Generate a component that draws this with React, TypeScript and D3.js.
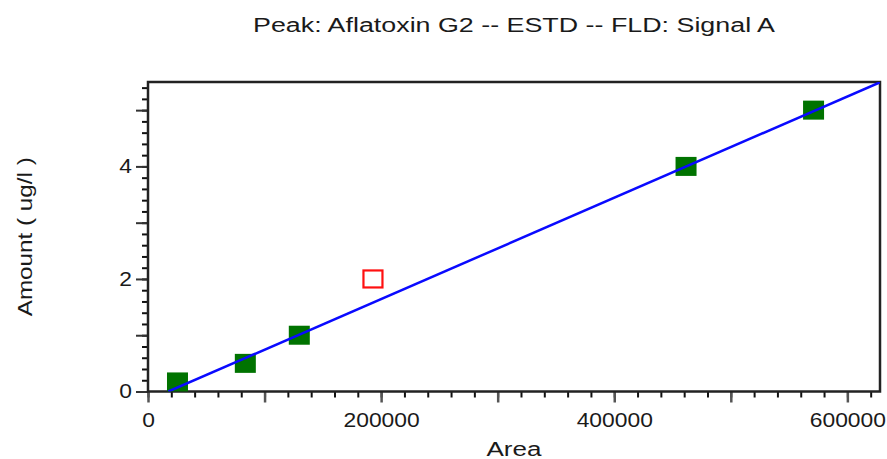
import React, { useEffect, useRef } from "react";
import { select, scaleLinear, axisBottom, axisLeft, range, line } from "d3";

// calibration points (area vs amount)
const areas = [25300, 83500, 129800, 461600, 571000];
const amounts = [0.17, 0.5, 1.0, 4.0, 5.0];
// excluded point (open red square)
const excludedAreas = [193000];
const excludedAmounts = [2.0];
// fitted line: amount = slope * area + intercept
const fitSlope = 9.0e-6;
const fitIntercept = -0.157;

const xTickLabels = [0, 200000, 400000, 600000];
const yTickLabels = [0, 2, 4];
const title = "Peak: Aflatoxin G2 -- ESTD -- FLD: Signal A";

const width = 887;
const height = 459;
const plotLeft = 148;
const plotRight = 880;
const plotTop = 82;
const plotBottom = 391.5;
const xMax = 628000;
const yMax = 5.5;
const font = "'Liberation Sans', Arial, sans-serif";

const App = () => {
  const svgRef = useRef<SVGSVGElement>(null);

  useEffect(() => {
    const svg = select(svgRef.current);
    svg.selectAll("*").remove();

    const xScale = scaleLinear().domain([0, xMax]).range([plotLeft, plotRight]);
    const yScale = scaleLinear().domain([0, yMax]).range([plotBottom, plotTop]);

    // title
    svg
      .append("text")
      .attr("x", (plotLeft + plotRight) / 2)
      .attr("y", 32)
      .attr("text-anchor", "middle")
      .attr("textLength", 522)
      .attr("lengthAdjust", "spacingAndGlyphs")
      .style("font-family", font)
      .style("font-size", "20px")
      .style("fill", "#1a1a1a")
      .text(title);

    // x axis ticks: minor every 20000, major every 100000
    const xMinor = axisBottom(xScale)
      .tickValues(range(0, xMax + 1, 20000))
      .tickSize(6)
      .tickFormat(() => "");
    svg
      .append("g")
      .attr("transform", `translate(0,${plotBottom})`)
      .call(xMinor)
      .call((g) => g.select(".domain").remove())
      .call((g) => g.selectAll("line").attr("stroke", "#111").attr("stroke-width", 2));

    const xMajor = axisBottom(xScale)
      .tickValues(range(0, xMax + 1, 100000))
      .tickSize(11)
      .tickFormat(() => "");
    svg
      .append("g")
      .attr("transform", `translate(0,${plotBottom})`)
      .call(xMajor)
      .call((g) => g.select(".domain").remove())
      .call((g) => g.selectAll("line").attr("stroke", "#555").attr("stroke-width", 2.5));

    const xLabels = axisBottom(xScale)
      .tickValues(xTickLabels)
      .tickSize(0)
      .tickPadding(0)
      .tickFormat((d) => String(d));
    svg
      .append("g")
      .attr("transform", `translate(0,${plotBottom})`)
      .call(xLabels)
      .call((g) => g.select(".domain").remove())
      .call((g) =>
        g
          .selectAll("text")
          .attr("dy", null)
          .attr("y", 35.5)
          .attr("textLength", (d: any) => String(d).length * 12.7)
          .attr("lengthAdjust", "spacingAndGlyphs")
          .style("font-family", font)
          .style("font-size", "20px")
          .style("fill", "#1a1a1a"),
      );

    // y axis ticks: minor every 0.2, major every 1
    const yMinor = axisLeft(yScale)
      .tickValues(range(0, 28).map((i) => i * 0.2))
      .tickSize(6)
      .tickFormat(() => "");
    svg
      .append("g")
      .attr("transform", `translate(${plotLeft},0)`)
      .call(yMinor)
      .call((g) => g.select(".domain").remove())
      .call((g) => g.selectAll("line").attr("stroke", "#111").attr("stroke-width", 2));

    const yMajor = axisLeft(yScale)
      .tickValues(range(0, 6))
      .tickSize(12)
      .tickFormat(() => "");
    svg
      .append("g")
      .attr("transform", `translate(${plotLeft},0)`)
      .call(yMajor)
      .call((g) => g.select(".domain").remove())
      .call((g) => g.selectAll("line").attr("stroke", "#333").attr("stroke-width", 2));

    const yLabels = axisLeft(yScale)
      .tickValues(yTickLabels)
      .tickSize(0)
      .tickPadding(16)
      .tickFormat((d) => String(d));
    svg
      .append("g")
      .attr("transform", `translate(${plotLeft},0)`)
      .call(yLabels)
      .call((g) => g.select(".domain").remove())
      .call((g) =>
        g
          .selectAll("text")
          .attr("textLength", 12.7)
          .attr("lengthAdjust", "spacingAndGlyphs")
          .style("font-family", font)
          .style("font-size", "20px")
          .style("fill", "#1a1a1a"),
      );

    // plot frame
    svg
      .append("rect")
      .attr("x", plotLeft)
      .attr("y", plotTop)
      .attr("width", plotRight - plotLeft)
      .attr("height", plotBottom - plotTop)
      .attr("fill", "none")
      .attr("stroke", "#222")
      .attr("stroke-width", 2.5);

    // axis titles
    svg
      .append("text")
      .attr("x", (plotLeft + plotRight) / 2)
      .attr("y", 456)
      .attr("text-anchor", "middle")
      .attr("textLength", 55)
      .attr("lengthAdjust", "spacingAndGlyphs")
      .style("font-family", font)
      .style("font-size", "20px")
      .style("fill", "#1a1a1a")
      .text("Area");

    svg
      .append("text")
      .attr("transform", `translate(32,${(plotTop + plotBottom) / 2}) rotate(-90)`)
      .attr("text-anchor", "middle")
      .attr("textLength", 159)
      .attr("lengthAdjust", "spacingAndGlyphs")
      .style("font-family", font)
      .style("font-size", "20px")
      .style("fill", "#1a1a1a")
      .text("Amount ( ug/l )");

    // clip for the fit line
    svg
      .append("clipPath")
      .attr("id", "plotClip")
      .append("rect")
      .attr("x", plotLeft)
      .attr("y", plotTop)
      .attr("width", plotRight - plotLeft)
      .attr("height", plotBottom - plotTop);

    const points = areas.map((a, i) => ({ area: a, amount: amounts[i] }));
    const excluded = excludedAreas.map((a, i) => ({ area: a, amount: excludedAmounts[i] }));

    // green calibration points
    svg
      .append("g")
      .selectAll("rect")
      .data(points)
      .join("rect")
      .attr("x", (d) => xScale(d.area) - 10.5)
      .attr("y", (d) => yScale(d.amount) - 9.5)
      .attr("width", 21)
      .attr("height", 19)
      .attr("fill", "#007300");

    // excluded point
    svg
      .append("g")
      .selectAll("rect")
      .data(excluded)
      .join("rect")
      .attr("x", (d) => xScale(d.area) - 9.5)
      .attr("y", (d) => yScale(d.amount) - 8.5)
      .attr("width", 19)
      .attr("height", 17)
      .attr("fill", "#fff")
      .attr("stroke", "#ff1010")
      .attr("stroke-width", 2.2);

    // fit line
    const fitLine = line<number>()
      .x((a) => xScale(a))
      .y((a) => yScale(fitSlope * a + fitIntercept));

    svg
      .append("path")
      .datum([-fitIntercept / fitSlope, xMax])
      .attr("clip-path", "url(#plotClip)")
      .attr("fill", "none")
      .attr("stroke", "#0a0aff")
      .attr("stroke-width", 2.5)
      .attr("d", fitLine);
  }, []);

  return (
    <svg
      ref={svgRef}
      width={width}
      height={height}
      style={{ position: "absolute", left: 0, top: 0, background: "#fff" }}
    />
  );
};

export default App;
